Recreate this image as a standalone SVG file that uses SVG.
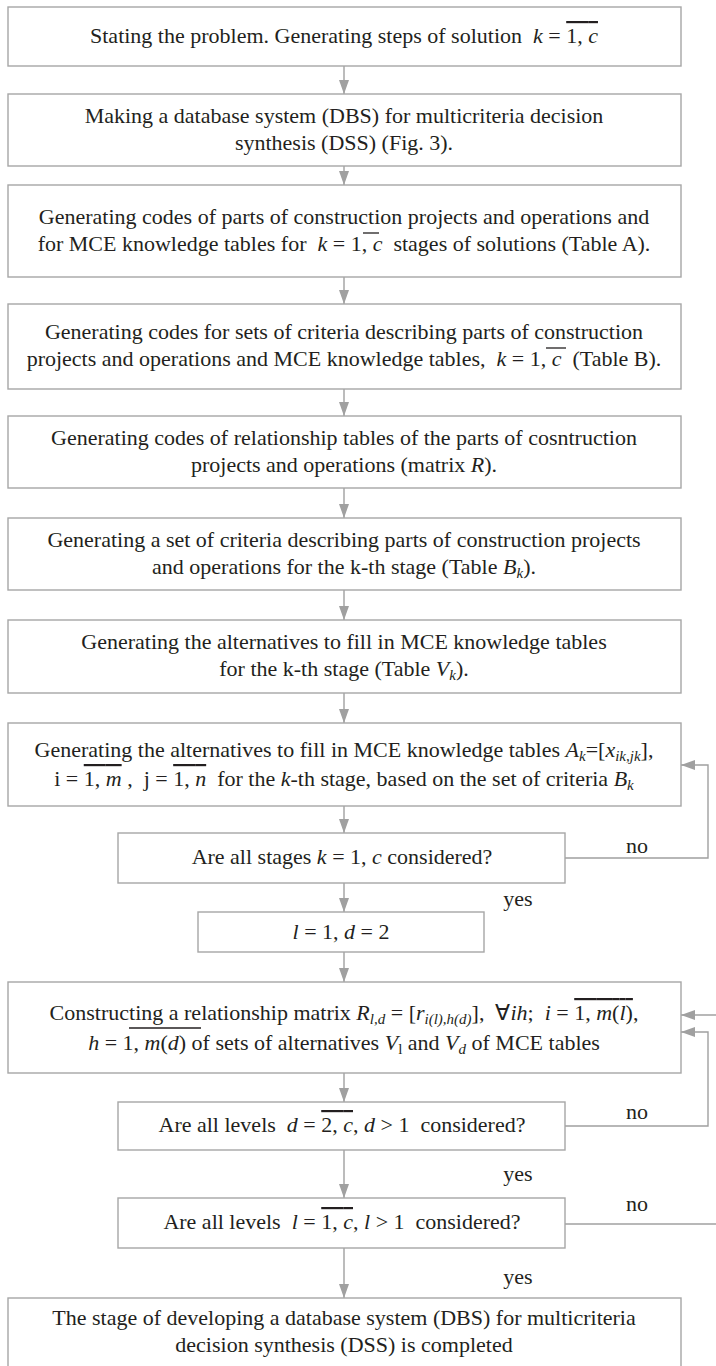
<svg xmlns="http://www.w3.org/2000/svg" width="716" height="1366" viewBox="0 0 716 1366">
<style>
.box{fill:#fff;stroke:#a6a6a6;stroke-width:1.4}
.t{font-family:"Liberation Serif","Times New Roman",serif;font-size:22px;fill:#231f20;text-anchor:middle}
.lab{font-family:"Liberation Serif","Times New Roman",serif;font-size:22px;fill:#231f20;text-anchor:middle}
.i{font-style:italic}
.s{font-size:15px}
.o{text-decoration:overline}
.c{fill:none;stroke:#a0a0a0;stroke-width:1.4}
.ol{stroke:#231f20;stroke-width:1.3}
</style>
<defs>
<marker id="ah" viewBox="0 0 14 10" refX="14" refY="5" markerWidth="14" markerHeight="10" markerUnits="userSpaceOnUse" orient="auto">
<path d="M0,0 L14,5 L0,10 z" fill="#a0a0a0"/>
</marker>
</defs>

<g id="connectors">
<line class="c" x1="344" y1="66" x2="344" y2="94" marker-end="url(#ah)"/>
<line class="c" x1="344" y1="166" x2="344" y2="185" marker-end="url(#ah)"/>
<line class="c" x1="344" y1="277" x2="344" y2="304" marker-end="url(#ah)"/>
<line class="c" x1="344" y1="389" x2="344" y2="416" marker-end="url(#ah)"/>
<line class="c" x1="344" y1="488" x2="344" y2="518" marker-end="url(#ah)"/>
<line class="c" x1="344" y1="590" x2="344" y2="620" marker-end="url(#ah)"/>
<line class="c" x1="344" y1="693" x2="344" y2="723" marker-end="url(#ah)"/>
<line class="c" x1="344" y1="806" x2="344" y2="833" marker-end="url(#ah)"/>
<line class="c" x1="344" y1="883" x2="344" y2="912" marker-end="url(#ah)"/>
<line class="c" x1="344" y1="952" x2="344" y2="982" marker-end="url(#ah)"/>
<line class="c" x1="344" y1="1073" x2="344" y2="1102" marker-end="url(#ah)"/>
<line class="c" x1="344" y1="1150" x2="344" y2="1198" marker-end="url(#ah)"/>
<line class="c" x1="344" y1="1248" x2="344" y2="1298" marker-end="url(#ah)"/>
<polyline class="c" points="565,858 708,858 708,765 681,765" marker-end="url(#ah)"/>
<polyline class="c" points="565,1126 708,1126 708,1032 681,1032" marker-end="url(#ah)"/>
<line class="c" x1="565" y1="1224" x2="716" y2="1224"/>
<line class="c" x1="716" y1="1015" x2="681" y2="1015" marker-end="url(#ah)"/>
<text class="lab" x="637" y="853">no</text>
<text class="lab" x="637" y="1119">no</text>
<text class="lab" x="637" y="1211">no</text>
<text class="lab" x="518" y="906">yes</text>
<text class="lab" x="518" y="1181">yes</text>
<text class="lab" x="518" y="1284">yes</text>
</g>

<g id="n1">
<rect class="box" x="8" y="7" width="673" height="59"/>
<text class="t" x="344" y="43">Stating the problem. Generating steps of solution&#160; <tspan class="i">k</tspan> = <tspan class="o">1, <tspan class="i">c</tspan></tspan></text>
</g>

<g id="n2">
<rect class="box" x="8" y="94" width="673" height="72"/>
<text class="t" x="344" y="123">Making a database system (DBS) for multicriteria decision</text>
<text class="t" x="344" y="150">synthesis (DSS) (Fig. 3).</text>
</g>

<g id="n3">
<rect class="box" x="8" y="185" width="673" height="92"/>
<text class="t" x="344" y="224">Generating codes of parts of construction projects and operations and</text>
<text class="t" x="344" y="251">for MCE knowledge tables for&#160; <tspan class="i">k</tspan> = 1, <tspan class="i">c</tspan>&#160; stages of solutions (Table A).</text>
<line class="ol" x1="363" y1="233" x2="379" y2="233"/>
</g>

<g id="n4">
<rect class="box" x="8" y="304" width="673" height="85"/>
<text class="t" x="344" y="339">Generating codes for sets of criteria describing parts of construction</text>
<text class="t" x="344" y="366">projects and operations and MCE knowledge tables,&#160; <tspan class="i">k</tspan> = 1, <tspan class="i">c</tspan>&#160; (Table B).</text>
<line class="ol" x1="546" y1="348" x2="566" y2="348"/>
</g>

<g id="n5">
<rect class="box" x="8" y="416" width="673" height="72"/>
<text class="t" x="344" y="445">Generating codes of relationship tables of the parts of cosntruction</text>
<text class="t" x="344" y="472">projects and operations (matrix <tspan class="i">R</tspan>).</text>
</g>

<g id="n6">
<rect class="box" x="8" y="518" width="673" height="72"/>
<text class="t" x="344" y="547">Generating a set of criteria describing parts of construction projects</text>
<text class="t" x="344" y="574">and operations for the k-th stage (Table <tspan class="i">B</tspan><tspan class="s i" dy="4">k</tspan><tspan dy="-4">).</tspan></text>
</g>

<g id="n7">
<rect class="box" x="8" y="620" width="673" height="73"/>
<text class="t" x="344" y="649">Generating the alternatives to fill in MCE knowledge tables</text>
<text class="t" x="344" y="676">for the k-th stage (Table <tspan class="i">V</tspan><tspan class="s i" dy="4">k</tspan><tspan dy="-4">).</tspan></text>
</g>

<g id="n8">
<rect class="box" x="8" y="723" width="673" height="83"/>
<text class="t" x="344" y="757">Generating the alternatives to fill in MCE knowledge tables <tspan class="i">A</tspan><tspan class="s i" dy="4">k</tspan><tspan dy="-4">=[</tspan><tspan class="i">x</tspan><tspan class="s i" dy="4">ik,jk</tspan><tspan dy="-4">],</tspan></text>
<text class="t" x="344" y="786">i = <tspan class="o">1, <tspan class="i">m</tspan></tspan> ,&#160; j = <tspan class="o">1, <tspan class="i">n</tspan></tspan>&#160; for the <tspan class="i">k</tspan>-th stage, based on the set of criteria <tspan class="i">B</tspan><tspan class="s i" dy="4">k</tspan></text>
</g>

<g id="n9">
<rect class="box" x="118" y="833" width="447" height="50"/>
<text class="t" x="342" y="864">Are all stages <tspan class="i">k</tspan> = 1, <tspan class="i">c</tspan> considered?</text>
</g>

<g id="n10">
<rect class="box" x="198" y="912" width="286" height="40"/>
<text class="t" x="341" y="939"><tspan class="i">l</tspan> = 1, <tspan class="i">d</tspan> = 2</text>
</g>

<g id="n11">
<rect class="box" x="8" y="982" width="673" height="91"/>
<text class="t" x="344" y="1020">Constructing a relationship matrix <tspan class="i">R</tspan><tspan class="s i" dy="4">l,d</tspan><tspan dy="-4"> = [</tspan><tspan class="i">r</tspan><tspan class="s i" dy="4">i(l),h(d)</tspan><tspan dy="-4">],&#160; ∀</tspan><tspan class="i">ih</tspan>;&#160; <tspan class="i">i</tspan> = <tspan class="o">1, <tspan class="i">m</tspan>(<tspan class="i">l</tspan>)</tspan>,</text>
<text class="t" x="344" y="1050"><tspan class="i">h</tspan> = 1, <tspan class="i">m</tspan>(<tspan class="i">d</tspan>) of sets of alternatives <tspan class="i">V</tspan><tspan class="s" dy="4">l</tspan><tspan dy="-4"> and </tspan><tspan class="i">V</tspan><tspan class="s i" dy="4">d</tspan><tspan dy="-4"> of MCE tables</tspan></text>
<line class="ol" x1="129" y1="1028" x2="201" y2="1028"/>
</g>

<g id="n12">
<rect class="box" x="118" y="1102" width="447" height="48"/>
<text class="t" x="342" y="1132">Are all levels&#160; <tspan class="i">d</tspan> = <tspan class="o">2, <tspan class="i">c</tspan></tspan>, <tspan class="i">d</tspan> &gt; 1&#160; considered?</text>
</g>

<g id="n13">
<rect class="box" x="118" y="1198" width="447" height="50"/>
<text class="t" x="342" y="1229">Are all levels&#160; <tspan class="i">l</tspan> = <tspan class="o">1, <tspan class="i">c</tspan></tspan>, <tspan class="i">l</tspan> &gt; 1&#160; considered?</text>
</g>

<g id="n14">
<rect class="box" x="8" y="1298" width="673" height="90"/>
<text class="t" x="344" y="1325">The stage of developing a database system (DBS) for multicriteria</text>
<text class="t" x="344" y="1352">decision synthesis (DSS) is completed</text>
</g>
</svg>
